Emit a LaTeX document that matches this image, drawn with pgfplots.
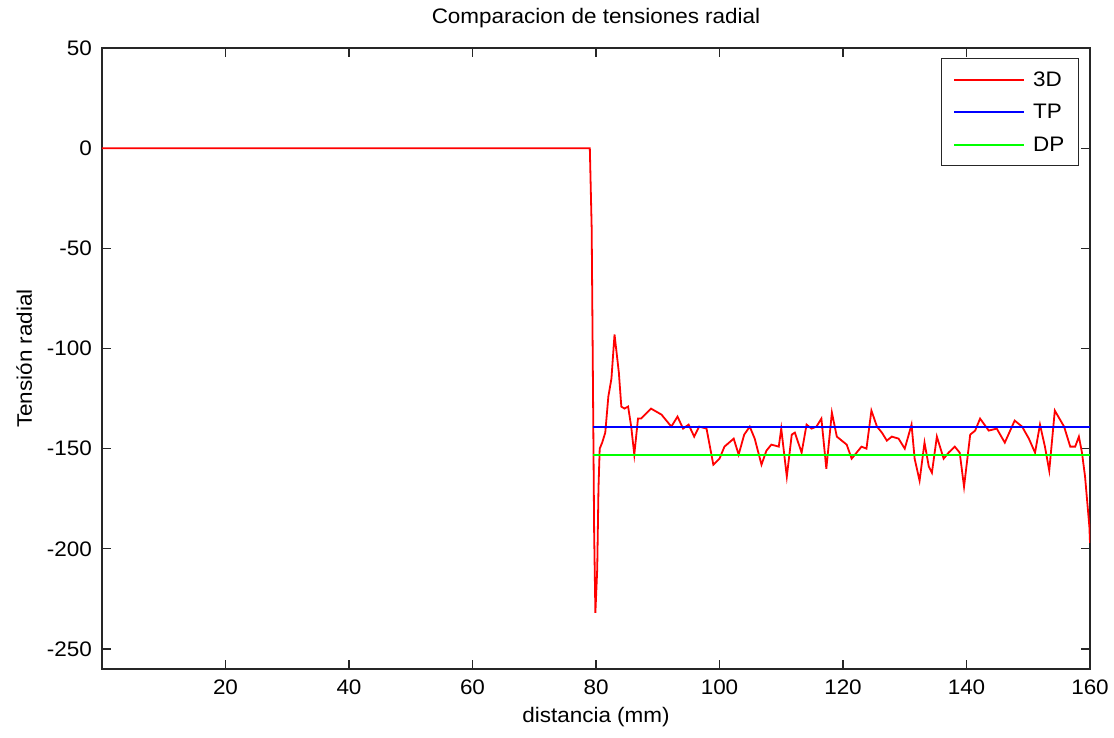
\documentclass[border=0pt]{standalone}
\usepackage{fontspec}
\setmainfont[FakeStretch=1.07]{Liberation Sans}
\usepackage{pgfplots}
\pgfplotsset{compat=1.18}
\begin{document}
\begin{tikzpicture}
\path (-102pt,-69pt) rectangle (1012pt,669pt);
\begin{axis}[
  at={(0,0)}, anchor=south west,
  scale only axis, width=988pt, height=621pt,
  xmin=0, xmax=160, ymin=-260, ymax=50,
  xtick={20,40,...,160}, ytick={-250,-200,...,50},
  tick align=inside, major tick length=9pt,
  every tick/.style={black!85, line width=1.1pt},
  axis line style={black!85, line width=1.3pt},
  font=\fontsize{21}{25}\selectfont,
  /pgf/number format/assume math mode=true,
  xticklabel style={inner sep=0pt, anchor=north, yshift=-11pt},
  yticklabel style={inner sep=0pt, anchor=east, xshift=-10pt},
  title={Comparacion de tensiones radial},
  title style={at={(axis description cs:0.5,1)}, anchor=base, inner sep=0pt, yshift=18pt},
  xlabel={distancia (mm)},
  xlabel style={at={(axis description cs:0.5,0)}, anchor=base, inner sep=0pt, yshift=-54pt},
  ylabel={Tensión radial},
  ylabel style={at={(axis description cs:-0.0709,0.5)}, anchor=base, inner sep=0pt},
  legend style={at={(rel axis cs:1,1)}, anchor=north east, xshift=-11pt, yshift=-10pt,
    draw=black!85, line width=1.1pt, inner xsep=12pt, inner ysep=11pt, row sep=12.5pt,
    column sep=6pt, nodes={inner sep=2pt}, font=\fontsize{21}{25}\selectfont},
  legend cell align=left,
  legend image code/.code={\draw[#1, line width=1.8pt] (0pt,0pt) -- (70pt,0pt);},
]
\addplot[red, line width=1.8pt] coordinates {
(0,0) (79.0,0) (79.3,-40) (79.5,-115) (79.7,-192) (79.9,-232) (80.2,-210) (80.4,-170)
(80.6,-150) (81.0,-147) (81.5,-142) (82.0,-124) (82.5,-115) (83.0,-93) (83.7,-112)
(84.1,-129) (84.6,-130) (85.2,-129) (85.7,-139) (86.2,-153) (86.8,-135) (87.3,-135)
(88.9,-130) (90.6,-133) (92.2,-139) (93.2,-134) (94.1,-140) (95.0,-138) (95.9,-144)
(96.7,-139) (97.9,-140) (99.0,-158) (100.0,-155) (100.8,-149) (102.3,-145) (103.1,-153)
(104.0,-143) (104.9,-139) (105.7,-145) (106.8,-158) (107.6,-151) (108.4,-148) (109.6,-149)
(110.0,-140) (110.9,-164) (111.7,-143) (112.2,-142) (113.3,-152) (114.1,-138) (114.9,-140)
(115.7,-139) (116.5,-135) (117.3,-160) (118.2,-132) (119.0,-144) (119.8,-146) (120.6,-148)
(121.4,-155) (122.2,-152) (123.0,-149) (123.8,-150) (124.6,-131) (125.5,-139) (126.3,-142)
(127.1,-146) (127.9,-144) (129.0,-145) (130.0,-150) (131.1,-138) (131.6,-155) (132.4,-166)
(133.2,-147) (133.9,-159) (134.4,-162) (135.2,-144) (136.3,-155) (137.1,-152) (138.1,-149)
(138.9,-152) (139.6,-169) (140.6,-143) (141.4,-141) (142.2,-135) (143.6,-141) (144.9,-140)
(146.2,-147) (147.8,-136) (149.0,-139) (150.1,-145) (151.1,-152) (151.9,-138) (152.7,-149)
(153.4,-161) (154.3,-131) (155.8,-139) (156.8,-149) (157.6,-149) (158.2,-144) (158.7,-152)
(159.2,-164) (159.9,-189) (160,-197)
};
\addlegendentry{3D}
\addplot[blue, line width=1.8pt] coordinates {(79.5,-139) (160,-139)};
\addlegendentry{TP}
\addplot[green, line width=1.8pt] coordinates {(79.5,-153) (160,-153)};
\addlegendentry{DP}
\end{axis}
\end{tikzpicture}
\end{document}
